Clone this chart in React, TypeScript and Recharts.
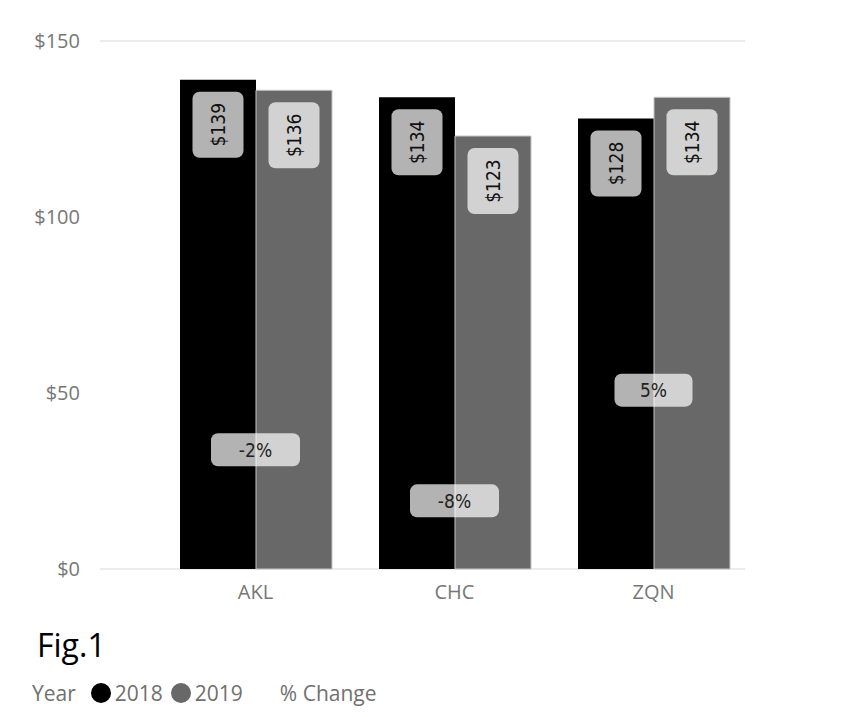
import { ComposedChart, Bar, Line, XAxis, YAxis, CartesianGrid, Legend, LabelList } from 'recharts';

const cities = ['AKL', 'CHC', 'ZQN'];
const fare2018 = [139, 134, 128];
const fare2019 = [136, 123, 134];
const pctChange = [-2, -8, 5];
const yTicks = [0, 50, 100, 150];

const data = cities.map((city, i) => ({
  city,
  '2018': fare2018[i],
  '2019': fare2019[i],
  change: pctChange[i],
}));

const labelFont = '"DejaVu Sans Condensed", "DejaVu Sans", Roboto, sans-serif';
const uiFont = '"Segoe UI", "Open Sans", "Noto Sans", sans-serif';

const BarValueLabel = (props: any) => {
  const { x, y, width, value } = props;
  const cx = x + width / 2;
  const boxW = 51;
  const boxH = 66;
  const top = y + 12;
  return (
    <g>
      <rect x={cx - boxW / 2} y={top} width={boxW} height={boxH} rx={7} fill="#fff" fillOpacity={0.7} />
      <text
        x={cx}
        y={top + boxH / 2}
        transform={`rotate(-90 ${cx} ${top + boxH / 2})`}
        textAnchor="middle"
        dominantBaseline="central"
        fontSize={19}
        fontFamily={labelFont}
        fill="#111"
      >
        {`$${value}`}
      </text>
    </g>
  );
};

const PctLabel = (props: any) => {
  const { x, y, value } = props;
  const text = `${value}%`;
  const boxW = 56 + 11 * text.length;
  const boxH = 33;
  return (
    <g>
      <rect x={x - boxW / 2} y={y - boxH / 2} width={boxW} height={boxH} rx={7} fill="#fff" fillOpacity={0.7} />
      <text x={x} y={y} textAnchor="middle" dominantBaseline="central" fontSize={19} fontFamily={labelFont} fill="#222">
        {text}
      </text>
    </g>
  );
};

const Dot = ({ color }: { color: string }) => (
  <span style={{ display: 'inline-block', width: 20, height: 20, borderRadius: '50%', background: color }} />
);

const FigLegend = () => (
  <div style={{ position: 'relative', width: 834, height: 109 }}>
    <div
      style={{
        position: 'absolute',
        left: 29,
        top: 28,
        fontSize: 32,
        lineHeight: '36px',
        color: '#000',
        fontFamily: '"Open Sans", sans-serif',
      }}
    >
      Fig.1
    </div>
    <div
      style={{
        position: 'absolute',
        left: 24,
        top: 83,
        height: 22,
        display: 'flex',
        alignItems: 'center',
        fontSize: 21,
        color: '#707070',
        fontFamily: uiFont,
        whiteSpace: 'nowrap',
      }}
    >
      <span style={{ marginRight: 15 }}>Year</span>
      <Dot color="#000" />
      <span style={{ marginLeft: 4, marginRight: 8 }}>2018</span>
      <Dot color="#686868" />
      <span style={{ marginLeft: 4, marginRight: 37 }}>2019</span>
      <span>% Change</span>
    </div>
  </div>
);

export default function App() {
  return (
    <div style={{ width: 834, height: 700 }}>
      <ComposedChart
        width={834}
        height={700}
        data={data}
        margin={{ top: 33, right: 97, left: 0, bottom: 0 }}
        barCategoryGap={24}
        barGap={0}
      >
        <CartesianGrid vertical={false} stroke="#ececec" strokeWidth={2} />
        <XAxis
          dataKey="city"
          axisLine={false}
          tickLine={false}
          tickSize={0}
          tickMargin={16}
          height={30}
          padding={{ left: 56, right: -8 }}
          tick={{ fill: '#777', fontSize: 20, fontFamily: uiFont }}
        />
        <YAxis
          yAxisId="fare"
          domain={[0, 150]}
          ticks={yTicks}
          width={92}
          axisLine={false}
          tickLine={false}
          tickSize={0}
          tickMargin={20}
          tickFormatter={(v: number) => `$${v}`}
          tick={{ fill: '#777', fontSize: 20, fontFamily: uiFont }}
        />
        <YAxis yAxisId="pct" orientation="right" hide domain={[-16, 46]} />
        <Legend verticalAlign="bottom" content={() => <FigLegend />} wrapperStyle={{ left: 0, bottom: 0 }} />
        <Bar yAxisId="fare" dataKey="2018" fill="#000" isAnimationActive={false}>
          <LabelList dataKey="2018" content={<BarValueLabel />} />
        </Bar>
        <Bar yAxisId="fare" dataKey="2019" fill="#686868" stroke="#c4c4c4" strokeWidth={1} isAnimationActive={false}>
          <LabelList dataKey="2019" content={<BarValueLabel />} />
        </Bar>
        <Line
          yAxisId="pct"
          dataKey="change"
          stroke="none"
          dot={false}
          activeDot={false}
          isAnimationActive={false}
        >
          <LabelList dataKey="change" content={<PctLabel />} />
        </Line>
      </ComposedChart>
    </div>
  );
}
